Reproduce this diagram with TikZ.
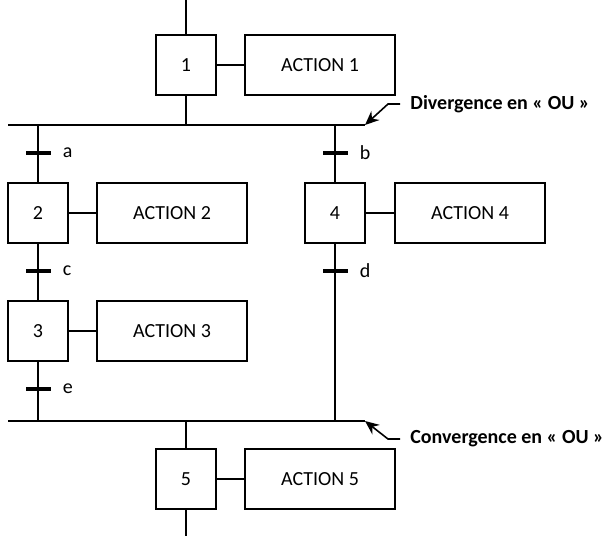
\documentclass[tikz,border=0pt]{standalone}
\usepackage{fontspec}
\setmainfont{Carlito}
\usetikzlibrary{arrows.meta, positioning}

\begin{document}
\begin{tikzpicture}[x=0.5pt, y=-0.5pt,
    etape/.style={rectangle, draw, line width=0.75pt, minimum width=30pt, minimum height=30pt, inner sep=0pt, font=\fontsize{10}{12}\selectfont},
    action/.style={rectangle, draw, line width=0.75pt, minimum width=75pt, minimum height=30pt, inner sep=0pt, font=\fontsize{10}{12}\selectfont},
    trans/.style={rectangle, fill=black, minimum width=12.5pt, minimum height=2pt, inner sep=0pt,
        label={[label distance=2.5pt, font=\fontsize{10}{12}\selectfont]right:#1}},
    lien/.style={line width=0.8pt},
    note/.style={anchor=west, inner sep=5pt, font=\fontsize{10}{12}\selectfont\bfseries}
]
\useasboundingbox (0,0) rectangle (614,536);

% Step 1
\node[etape] (s1) at (186,65) {1};
\node[action] (act1) at (320,65) {ACTION 1};
\draw[lien] (s1.east) -- (act1.west);
\coordinate (top) at (186,0);
\draw[lien] (top) -- (s1.north);

% Divergence
\coordinate (divL) at (8,125);
\coordinate (divR) at (365,125);
\draw[lien] (divL) -- (divR);
\draw[lien] (s1.south) -- (s1.south |- divL);
\node[note] (divtxt) at (400,104) {Divergence en « OU »};
\draw[lien, -{Stealth[length=7pt, width=6pt]}] (divtxt.west) -- ++(-12,0) -- (divR);

% Left branch
\node[trans=a] (ta) at (38,153) {};
\node[etape] (s2) at (38,213) {2};
\node[action] (act2) at (172,213) {ACTION 2};
\draw[lien] (s2.east) -- (act2.west);
\node[trans=c] (tc) at (38,271) {};
\node[etape] (s3) at (38,331) {3};
\node[action] (act3) at (172,331) {ACTION 3};
\draw[lien] (s3.east) -- (act3.west);
\node[trans=e] (te) at (38,389) {};

% Right branch
\node[trans=b] (tb) at (335,153) {};
\node[etape] (s4) at (335,213) {4};
\node[action] (act4) at (470,213) {ACTION 4};
\draw[lien] (s4.east) -- (act4.west);
\node[trans=d] (td) at (335,271) {};

% Convergence
\coordinate (convL) at (8,421);
\coordinate (convR) at (365,421);
\draw[lien] (convL) -- (convR);
\node[note] (convtxt) at (400,439) {Convergence en « OU »};
\draw[lien, -{Stealth[length=7pt, width=6pt]}] (convtxt.west) -- ++(-12,0) -- (convR);

% Branch links
\draw[lien] (s2.north |- divL) -- (s2.north);
\draw[lien] (s2.south) -- (s3.north);
\draw[lien] (s3.south) -- (s3.south |- convL);
\draw[lien] (s4.north |- divL) -- (s4.north);
\draw[lien] (s4.south) -- (s4.south |- convL);

% Step 5
\node[etape] (s5) at (186,479) {5};
\node[action] (act5) at (320,479) {ACTION 5};
\draw[lien] (s5.east) -- (act5.west);
\draw[lien] (s5.north |- convL) -- (s5.north);
\coordinate (bot) at (186,536);
\draw[lien] (s5.south) -- (bot);

\end{tikzpicture}
\end{document}
